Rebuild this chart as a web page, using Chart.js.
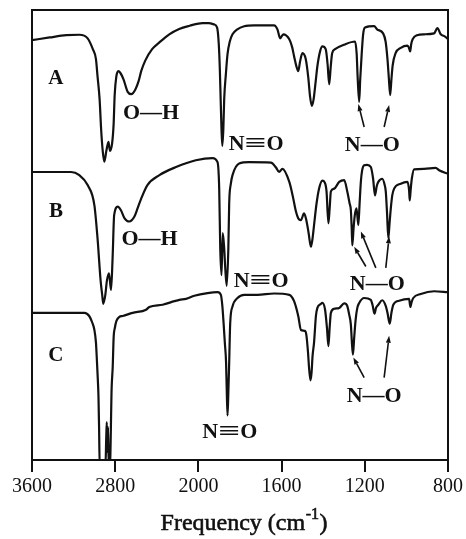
<!DOCTYPE html>
<html><head><meta charset="utf-8">
<script src="https://cdn.jsdelivr.net/npm/chart.js@4.4.1/dist/chart.umd.min.js"></script>
<style>html,body{margin:0;padding:0;background:#fff;}canvas{display:block;}</style>
</head><body>
<canvas id="c" width="466" height="539"></canvas>
<script>
// ---- data (frequency in cm^-1, relative transmittance with vertical offsets) ----
const freqA = [3600,3430,3270,3145,3065,3015,2985,2970,2950,2935,2920,2905,2885,2865,2850,2830,2815,2805,2790,2770,2750,2720,2680,2645,2605,2575,2550,2510,2445,2375,2280,2185,2085,1980,1950,1925,1910,1902,1897,1893,1889,1885,1880,1876,1868,1860,1849,1836,1813,1780,1732,1636,1620,1607,1592,1563,1549,1540,1530,1520,1511,1500,1484,1472,1463,1455,1446,1436,1428,1415,1404,1388,1379,1371,1364,1357,1343,1299,1247,1239,1235,1227,1222,1215,1208,1199,1155,1141,1112,1100,1091,1084,1078,1072,1066,1052,1027,995,987,982,977,970,949,915,867,851,835,814,800];
const valA = [93.3,93.9,94.4,94.5,93.7,91.3,89.1,85.3,80.2,73.4,68.7,66.3,68.7,70.7,68.7,70.3,74.7,81.1,85.1,86.4,86.0,84.6,81.8,81.3,82.4,84.2,86.4,88.8,91.3,92.8,94.6,95.8,96.5,97.1,97.1,96.8,96.1,92.4,86.9,80.2,73.6,69.8,73.6,80.2,85.7,90.2,93.0,94.6,95.7,96.4,96.6,96.6,95.7,93.7,94.6,93.5,91.7,89.7,87.7,86.4,88.6,90.4,89.1,85.1,80.7,78.7,80.2,84.2,87.5,90.8,91.9,91.3,88.0,83.5,87.3,90.4,91.3,92.3,93.0,90.2,85.7,79.6,84.6,90.2,94.6,96.1,96.4,95.7,94.8,93.0,89.1,84.6,81.1,84.6,87.7,90.4,91.6,92.1,91.5,90.8,92.4,93.5,94.4,94.6,94.8,96.0,94.6,94.1,93.5];

const freqB = [3600,3430,3225,3145,3065,3000,2970,2940,2925,2915,2895,2880,2860,2840,2825,2810,2775,2745,2710,2665,2615,2585,2550,2490,2375,2215,2025,1932,1908,1900,1895,1889,1883,1876,1871,1864,1856,1852,1844,1836,1804,1756,1651,1627,1612,1596,1563,1547,1531,1520,1507,1492,1481,1470,1459,1451,1444,1432,1420,1404,1393,1384,1375,1369,1363,1347,1323,1299,1284,1273,1267,1263,1260,1254,1248,1240,1231,1225,1219,1213,1203,1189,1171,1160,1151,1143,1135,1116,1105,1099,1093,1087,1081,1075,1068,1059,1027,995,987,984,979,974,963,915,859,843,800];
const valB = [64.0,64.0,64.0,63.3,61.1,56.6,49.3,39.8,36.7,34.7,36.7,39.8,41.5,37.8,44.9,54.4,56.3,55.5,53.7,53.0,54.1,55.9,58.1,61.1,63.3,65.1,66.6,67.1,66.2,60.3,47.1,41.1,50.4,47.1,42.7,38.7,47.1,57.0,61.4,63.3,65.9,66.2,66.1,65.0,64.0,64.7,61.8,58.8,55.2,53.7,53.3,54.8,53.3,50.4,47.4,49.3,52.2,57.0,60.3,62.1,61.7,59.7,52.6,55.9,59.7,60.3,61.8,62.2,59.6,57.0,55.5,51.5,47.7,51.5,54.4,55.9,52.2,57.0,61.8,64.3,65.5,65.6,65.1,62.5,58.8,60.8,61.8,62.5,61.2,59.6,54.8,49.3,52.6,55.9,58.8,60.3,61.4,61.8,59.9,57.7,60.3,62.5,64.6,64.7,64.9,64.4,63.6];

const freqC = [3600,3335,3095,3050,3020,3000,2985,2978,2968,2961,2955,2949,2894,2886,2881,2875,2869,2862,2851,2834,2824,2815,2803,2788,2760,2728,2632,2503,2472,2344,2231,2183,2119,2039,1956,1908,1892,1885,1879,1873,1867,1864,1860,1856,1852,1847,1836,1812,1780,1716,1636,1563,1540,1520,1507,1488,1481,1473,1468,1461,1456,1451,1444,1435,1428,1411,1404,1391,1382,1375,1369,1363,1347,1323,1299,1291,1284,1275,1267,1262,1257,1251,1244,1236,1227,1203,1171,1163,1153,1146,1135,1116,1099,1091,1080,1072,1063,1035,987,981,975,967,931,867,800];
const valC = [32.7,32.7,32.7,32.0,30.5,28.9,26.1,23.1,18.3,14.3,7.3,-1.5,-1.5,5.1,8.4,1.8,7.3,-1.5,-1.5,16.1,20.6,27.2,29.4,30.9,31.8,32.0,32.7,33.4,34.0,34.5,35.3,35.6,35.8,36.5,37.1,37.3,36.7,34.3,30.5,26.1,21.7,16.1,9.9,15.0,21.7,30.5,34.1,36.0,36.7,36.7,37.0,36.7,35.3,32.0,28.9,28.7,27.8,23.9,20.5,17.7,19.4,23.2,26.1,32.0,33.8,34.7,34.9,33.4,29.4,25.3,29.4,32.7,33.6,33.8,34.8,34.7,34.2,32.3,30.1,26.1,23.4,27.2,31.2,33.8,34.9,36.0,35.6,34.5,32.5,33.8,34.5,35.5,34.2,32.7,30.3,32.7,34.5,35.4,35.8,34.0,35.1,36.0,36.9,37.5,37.3];

const tickFreqs = [3600, 2800, 2000, 1600, 1200, 800];
const axisTitle = ['Frequency (cm', '-1', ')'];

// annotation texts anchored in data coordinates
const labelTexts = ['A','B','C','O—H','O—H','N≡O','N≡O','N≡O','N—O','N—O','N—O'];
const labelFreqs = [3370,3370,3370,2455,2470,1722,1698,1849,1164,1140,1155];
const labelVals  = [85.1,55.5,23.5,77.3,49.3,70.6,40.1,6.6,70.3,39.3,14.6];
// arrows: [fromFreq, fromVal, toFreq, toVal]
const arrowDefs = [
  [1203,74.0,1231,79.1],[1107,74.0,1083,78.9],
  [1195,43.0,1251,47.4],[1147,42.7,1219,50.8],[1099,42.7,1083,49.7],
  [1203,18.3,1255,22.8],[1107,18.3,1083,27.6]
];

// ---- axis with 2x expansion below 2000 cm^-1 ----
function toAxis(f){ return f <= 2000 ? f : 2000 + (f - 2000) / 2; }
function fromAxis(u){ return u <= 2000 ? u : 2000 + (u - 2000) * 2; }
function series(fr, vals){ return fr.map((f,i)=>({x: toAxis(f), y: vals[i]})); }

const INK = '#111';
const SERIF = '"Liberation Serif", "Times New Roman", serif';

function drawLabel(ctx, text, cx, cy, size){
  ctx.font = 'bold ' + size + 'px ' + SERIF;
  ctx.fillStyle = INK;
  ctx.textBaseline = 'alphabetic';
  const base = cy + size * 0.33;
  if (text.indexOf('≡') >= 0) {
    const parts = text.split('≡');
    const wN = ctx.measureText(parts[0]).width;
    const wO = ctx.measureText(parts[1]).width;
    const wEq = ctx.measureText('≡').width;
    const bond = size * 1.0;
    const total = wN + bond + wO;
    let x = cx - total / 2;
    ctx.textAlign = 'left';
    ctx.fillText(parts[0], x, base);
    ctx.save();
    ctx.translate(x + wN, base);
    ctx.scale(bond / wEq, 1);
    ctx.fillText('≡', 0, 0);
    ctx.restore();
    ctx.fillText(parts[1], x + wN + bond, base);
  } else {
    ctx.textAlign = 'center';
    ctx.fillText(text, cx, base);
  }
}

const annotatePlugin = {
  id: 'annotate',
  afterDatasetsDraw(chart){
    const ctx = chart.ctx, xs = chart.scales.x, ys = chart.scales.y, a = chart.chartArea;
    ctx.save();
    // frame
    ctx.strokeStyle = INK; ctx.lineWidth = 2;
    ctx.strokeRect(a.left, a.top, a.right - a.left, a.bottom - a.top);
    // labels
    labelTexts.forEach((t,i)=>{
      const size = t.length === 1 ? 21 : 22;
      drawLabel(ctx, t, xs.getPixelForValue(toAxis(labelFreqs[i])), ys.getPixelForValue(labelVals[i]), size);
    });
    // arrows
    ctx.lineWidth = 1.6; ctx.strokeStyle = INK; ctx.fillStyle = INK;
    arrowDefs.forEach(d=>{
      const x1 = xs.getPixelForValue(toAxis(d[0])), y1 = ys.getPixelForValue(d[1]);
      const x2 = xs.getPixelForValue(toAxis(d[2])), y2 = ys.getPixelForValue(d[3]);
      const ang = Math.atan2(y2 - y1, x2 - x1);
      const L = 7, W = 2.5;
      const bx = x2 - L * Math.cos(ang), by = y2 - L * Math.sin(ang);
      ctx.beginPath(); ctx.moveTo(x1, y1); ctx.lineTo(bx, by); ctx.stroke();
      ctx.beginPath();
      ctx.moveTo(x2, y2);
      ctx.lineTo(bx + W * Math.sin(ang), by - W * Math.cos(ang));
      ctx.lineTo(bx - W * Math.sin(ang), by + W * Math.cos(ang));
      ctx.closePath(); ctx.fill();
    });
    // axis title with superscript
    ctx.textBaseline = 'alphabetic'; ctx.textAlign = 'left';
    ctx.strokeStyle = INK; ctx.lineWidth = 0.6; ctx.fillStyle = INK;
    const mainF = '24px ' + SERIF, supF = '16px ' + SERIF;
    ctx.font = mainF; const w1 = ctx.measureText(axisTitle[0]).width, w3 = ctx.measureText(axisTitle[2]).width;
    ctx.font = supF; const w2 = ctx.measureText(axisTitle[1]).width;
    const total = w1 + w2 + w3 + 1;
    const cx = (a.left + a.right) / 2 + 4;
    const base = a.bottom + 70;
    let x = cx - total / 2;
    ctx.font = mainF; ctx.fillText(axisTitle[0], x, base); ctx.strokeText(axisTitle[0], x, base); x += w1 + 0.5;
    ctx.font = supF; ctx.fillText(axisTitle[1], x, base - 11); ctx.strokeText(axisTitle[1], x, base - 11); x += w2 + 0.5;
    ctx.font = mainF; ctx.fillText(axisTitle[2], x, base); ctx.strokeText(axisTitle[2], x, base);
    ctx.restore();
  }
};

const lineStyle = {borderColor: INK, borderWidth: 2.2, pointRadius: 0, fill: false, cubicInterpolationMode: 'monotone'};

new Chart(document.getElementById('c'), {
  type: 'line',
  data: {
    datasets: [
      Object.assign({label: 'A', data: series(freqA, valA)}, lineStyle),
      Object.assign({label: 'B', data: series(freqB, valB)}, lineStyle),
      Object.assign({label: 'C', data: series(freqC, valC)}, lineStyle)
    ]
  },
  options: {
    responsive: false,
    animation: false,
    devicePixelRatio: 1,
    layout: {padding: {left: 32, right: 17, top: 10, bottom: 37}},
    plugins: {legend: {display: false}, tooltip: {enabled: false}},
    scales: {
      x: {
        type: 'linear',
        reverse: true,
        min: toAxis(800),
        max: toAxis(3600),
        afterBuildTicks(scale){ scale.ticks = tickFreqs.map(f=>({value: toAxis(f)})); },
        ticks: {
          autoSkip: false, maxRotation: 0, padding: 3, color: INK,
          font: {family: SERIF, size: 20, lineHeight: 1.2},
          callback: (v)=> String(Math.round(fromAxis(v)))
        },
        grid: {display: true, drawOnChartArea: false, drawTicks: true, tickLength: 12, color: INK, lineWidth: 2},
        border: {display: false}
      },
      y: {
        display: false,
        min: 0,
        max: 100
      }
    }
  },
  plugins: [annotatePlugin]
});
</script>
</body></html>
